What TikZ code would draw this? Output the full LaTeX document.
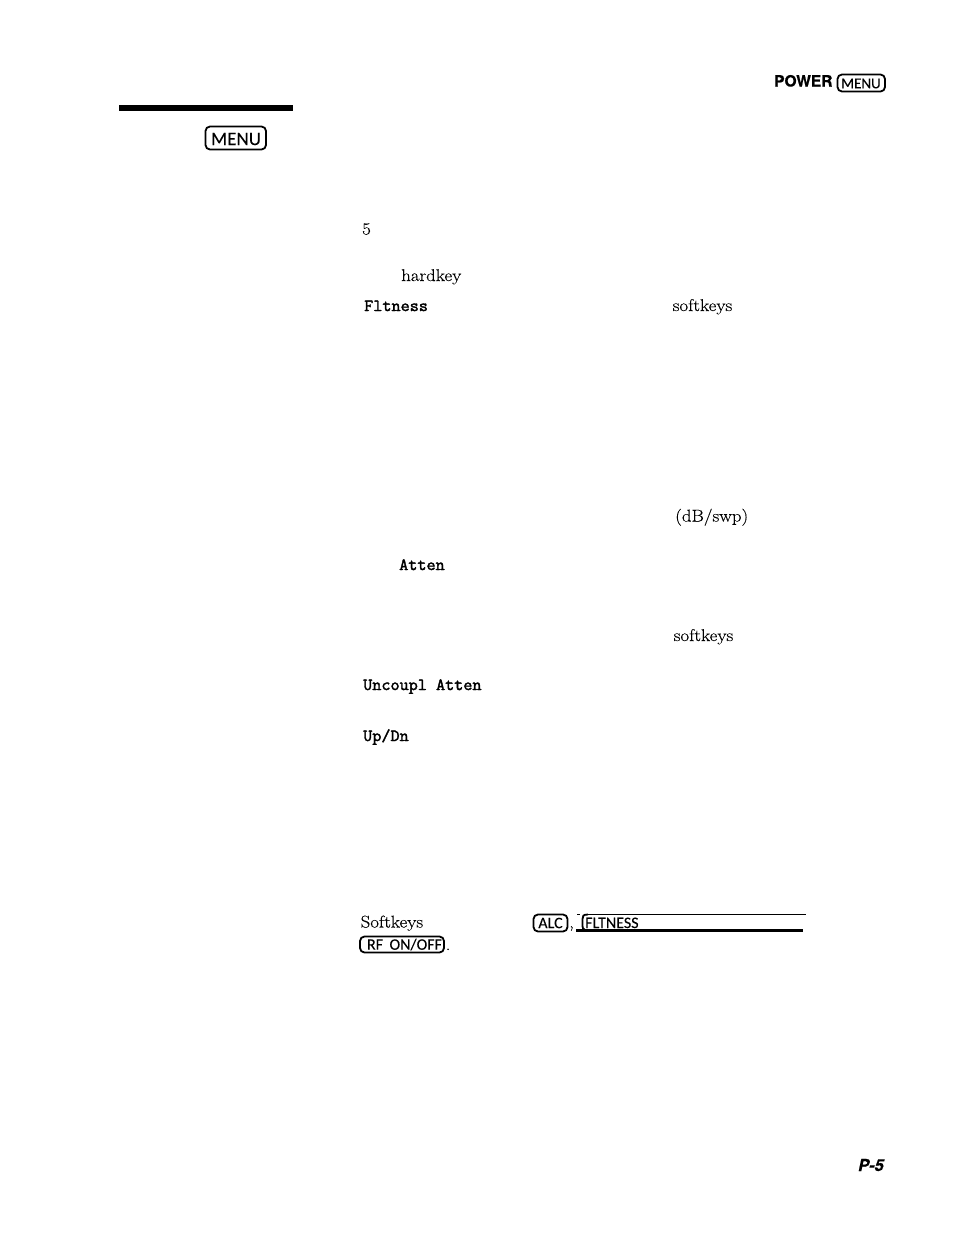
\documentclass[tikz,border=0pt]{standalone}
\usepackage{fontspec}
\setmainfont[FakeStretch=1.11,FakeBold=0.25]{Latin Modern Roman}
\setmonofont[FakeStretch=1.04,FakeBold=2.2]{Latin Modern Mono}
\newfontfamily\keyfont[FakeBold=0.1,WordSpace=1.8]{Carlito}
\newfontfamily\headfont[FakeBold=0.6]{TeX Gyre Heros}
\begin{document}
\begin{tikzpicture}[x=1pt,y=-1pt,
  body/.style={anchor=base west,inner sep=0pt,font=\fontsize{17}{20}\selectfont},
  softkey/.style={anchor=base west,inner sep=0pt,font=\fontsize{17}{20}\selectfont\ttfamily},
  keylabel/.style={inner sep=0pt,font=\fontsize{16}{19}\selectfont\keyfont},
  keybox/.style={draw=black,line width=1.8pt,rounded corners=4.5pt},
  headlabel/.style={anchor=base west,inner sep=0pt,font=\fontsize{15.5}{19}\selectfont\headfont\bfseries}]
\useasboundingbox (0,0) rectangle (954,1240);
% header
\node[headlabel] (power) at (774,86.5) {POWER};
\draw[keybox] (837.5,74.5) rectangle (885,91.5);
\node[keylabel,font=\fontsize{15}{17}\selectfont\keyfont] (menutop) at (861,83.5) {MENU};
% rule and margin key
\fill[black] (119,105) rectangle (293,111);
\draw[keybox] (205.5,126.5) rectangle (266,149.5);
\node[keylabel,font=\fontsize{19}{22}\selectfont\keyfont] (menu) at (236,139) {MENU};
% body fragments
\node[body] (five) at (362,234.5) {5};
\node[body] (hard) at (401,281) {hardkey};
\node[softkey] (flt) at (364,311) {Fltness};
\node[body] (soft1) at (672.5,311) {softkeys};
\node[body] (db) at (675,521.5) {(dB/swp)};
\node[softkey] (att) at (399,570) {Atten};
\node[body] (soft2) at (673.5,641) {softkeys};
\node[softkey] (unc) at (363,690) {Uncoupl Atten};
\node[softkey] (up) at (363,741) {Up/Dn};
\node[body] (sk) at (360.5,927.5) {Softkeys};
% bottom keys
\draw[keybox] (533.5,914.5) rectangle (567.5,931.5);
\node[keylabel] (alc) at (550.5,923) {ALC};
\node[body] (comma) at (569,927.5) {,};
\draw[line width=1.5pt] (577,914.5) -- (580,914.5);
\draw[line width=1.8pt] (588,914.5) .. controls (583,914.5) and (582.5,916) .. (582.5,919) -- (582.5,926) .. controls (582.5,928) and (583,929) .. (585,930);
\node[keylabel,anchor=base west] (fl) at (585,928) {FLTNESS};
\draw[line width=1pt] (588,914.5) -- (806,914.5);
\draw[line width=3pt] (576,930.5) -- (803,930.5);
\draw[keybox] (360,936.5) rectangle (444,952.5);
\node[keylabel] (rf) at (404.5,944.5) {RF ON/OFF};
\node[body] (dot) at (445.5,950) {.};
% folio
\node[headlabel,font=\fontsize{16.5}{19}\selectfont\headfont\bfseries\itshape] (folio) at (858,1171) {P-5};
\end{tikzpicture}
\end{document}
